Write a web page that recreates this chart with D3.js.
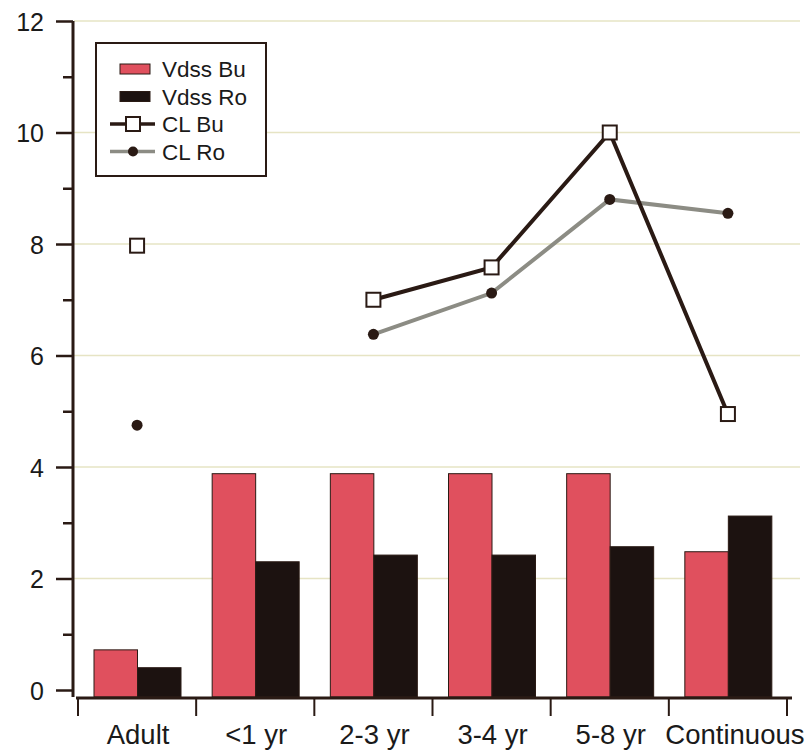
<!DOCTYPE html>
<html>
<head>
<meta charset="utf-8">
<script src="https://cdn.jsdelivr.net/npm/d3@7"></script>
<style>
  html, body { margin: 0; padding: 0; background: #ffffff; }
  svg { display: block; font-family: "Liberation Sans", Arial, sans-serif; }
</style>
</head>
<body>
<svg id="chart" width="811" height="751"></svg>
<script>
"use strict";
// data
const categories = ["Adult", "<1 yr", "2-3 yr", "3-4 yr", "5-8 yr", "Continuous"];
const vdssBu = [0.72, 3.88, 3.88, 3.88, 3.88, 2.48];
const vdssRo = [0.40, 2.30, 2.42, 2.42, 2.57, 3.12];
const clBu = [7.97, null, 7.00, 7.58, 10.00, 4.95];
const clRo = [4.75, null, 6.38, 7.12, 8.80, 8.55];
const yTicks = [0, 2, 4, 6, 8, 10, 12];
const yMinorTicks = [1, 3, 5, 7, 9, 11];

const col_pink = "#e0505e";
const col_dark = "#2a1a14";
const col_gray = "#8c8c84";
const col_grid = "#e6e4c4";

const svg = d3.select("#chart");

const x0 = d3.scaleBand().domain(categories).range([78, 787]).padding(0);
const x1 = d3.scaleBand().domain(["bu", "ro"]).range([16, 103]).padding(0);
const y = d3.scaleLinear().domain([0, 12]).range([690, 21]);
const baseY = 697;

// grid
svg.append("g")
    .selectAll("line")
    .data(yTicks.filter(d => d > 0))
    .enter()
    .append("line")
    .attr("x1", 74)
    .attr("x2", 800)
    .attr("y1", d => y(d))
    .attr("y2", d => y(d))
    .attr("stroke", col_grid)
    .attr("stroke-width", 1.5);

// bars
let g_bars = svg.append("g");
categories.forEach(function (c, i) {
    let g_cat = g_bars.append("g").attr("transform", "translate(" + x0(c) + ",0)");
    g_cat.append("rect")
        .attr("x", x1("bu"))
        .attr("width", x1.bandwidth())
        .attr("y", y(vdssBu[i]))
        .attr("height", baseY - y(vdssBu[i]))
        .attr("fill", col_pink)
        .attr("stroke", col_dark)
        .attr("stroke-width", 1);
    g_cat.append("rect")
        .attr("x", x1("ro"))
        .attr("width", x1.bandwidth())
        .attr("y", y(vdssRo[i]))
        .attr("height", baseY - y(vdssRo[i]))
        .attr("fill", "#1c1210")
        .attr("stroke", col_dark)
        .attr("stroke-width", 1);
});

// y axis
let g_yaxis = svg.append("g").attr("transform", "translate(73,0)");
g_yaxis.call(d3.axisLeft(y).tickValues(yTicks).tickSize(17).tickPadding(12).tickFormat(d3.format("d")));
g_yaxis.append("g").call(d3.axisLeft(y).tickValues(yMinorTicks).tickSize(10).tickFormat(""));
g_yaxis.selectAll(".domain").remove();
g_yaxis.append("line")
    .attr("x1", 0).attr("x2", 0)
    .attr("y1", y(12)).attr("y2", baseY)
    .attr("stroke", col_dark).attr("stroke-width", 3);
g_yaxis.selectAll(".tick line").attr("stroke", col_dark).attr("stroke-width", 2.5);
g_yaxis.selectAll(".tick text")
    .attr("fill", "#1a1a1a")
    .style("font-size", "25px")
    .attr("dy", "0.36em");

// x axis
let g_xaxis = svg.append("g").attr("transform", "translate(0," + (baseY + 1) + ")");
g_xaxis.append("line")
    .attr("x1", 76).attr("x2", 792)
    .attr("stroke", col_dark).attr("stroke-width", 3);
const bounds = categories.map(c => x0(c)).concat([x0(categories[categories.length - 1]) + x0.bandwidth()]);
g_xaxis.selectAll(".xt")
    .data(bounds)
    .enter()
    .append("line")
    .attr("class", "xt")
    .attr("x1", d => d).attr("x2", d => d)
    .attr("y1", 0).attr("y2", 18)
    .attr("stroke", col_dark).attr("stroke-width", 2);
g_xaxis.selectAll(".xl")
    .data(categories)
    .enter()
    .append("text")
    .attr("class", "xl")
    .attr("x", (d, i) => x0(d) + x0.bandwidth() / 2 + (i === categories.length - 1 ? 7 : 1))
    .attr("y", 46)
    .attr("text-anchor", "middle")
    .attr("fill", "#1a1a1a")
    .style("font-size", "27.5px")
    .text(d => d);

// lines
const xc = c => x0(c) + x0.bandwidth() / 2;
const line = d3.line()
    .defined(d => d.v != null)
    .x(d => xc(d.c))
    .y(d => y(d.v));
const roData = categories.map((c, i) => ({ c: c, v: clRo[i] }));
const buData = categories.map((c, i) => ({ c: c, v: clBu[i] }));

svg.append("path")
    .datum(roData)
    .attr("d", line)
    .attr("fill", "none")
    .attr("stroke", col_gray)
    .attr("stroke-width", 4);
svg.append("path")
    .datum(buData)
    .attr("d", line)
    .attr("fill", "none")
    .attr("stroke", col_dark)
    .attr("stroke-width", 4);

svg.append("g")
    .selectAll("circle")
    .data(roData.filter(d => d.v != null))
    .enter()
    .append("circle")
    .attr("cx", d => xc(d.c))
    .attr("cy", d => y(d.v))
    .attr("r", 5.5)
    .attr("fill", col_dark);
svg.append("g")
    .selectAll("rect")
    .data(buData.filter(d => d.v != null))
    .enter()
    .append("rect")
    .attr("x", d => xc(d.c) - 7)
    .attr("y", d => y(d.v) - 7)
    .attr("width", 14)
    .attr("height", 14)
    .attr("fill", "#ffffff")
    .attr("stroke", col_dark)
    .attr("stroke-width", 2);

// legend
let g_legend = svg.append("g").attr("transform", "translate(96,43)");
g_legend.append("rect")
    .attr("width", 170)
    .attr("height", 133)
    .attr("fill", "#ffffff")
    .attr("stroke", col_dark)
    .attr("stroke-width", 2);
const legendRows = [
    { name: "Vdss Bu", type: "bar", fill: col_pink },
    { name: "Vdss Ro", type: "bar", fill: "#1c1210" },
    { name: "CL Bu", type: "sq", stroke: col_dark },
    { name: "CL Ro", type: "dot", stroke: col_gray }
];
legendRows.forEach(function (r, i) {
    let cy = 26 + i * 27.5;
    let g_row = g_legend.append("g").attr("transform", "translate(0," + cy + ")");
    if (r.type === "bar") {
        g_row.append("rect")
            .attr("x", 24).attr("y", -5)
            .attr("width", 30).attr("height", 10)
            .attr("fill", r.fill)
            .attr("stroke", col_dark).attr("stroke-width", 1);
    } else {
        g_row.append("line")
            .attr("x1", 14).attr("x2", 59)
            .attr("stroke", r.stroke).attr("stroke-width", 3.5);
        if (r.type === "sq") {
            g_row.append("rect")
                .attr("x", 30).attr("y", -7)
                .attr("width", 14).attr("height", 14)
                .attr("fill", "#ffffff")
                .attr("stroke", col_dark).attr("stroke-width", 2);
        } else {
            g_row.append("circle")
                .attr("cx", 37).attr("r", 5)
                .attr("fill", col_dark);
        }
    }
    g_row.append("text")
        .attr("x", 66)
        .attr("y", 0)
        .attr("dy", "0.36em")
        .attr("fill", "#1a1a1a")
        .style("font-size", "22.5px")
        .text(r.name);
});
</script>
</body>
</html>
